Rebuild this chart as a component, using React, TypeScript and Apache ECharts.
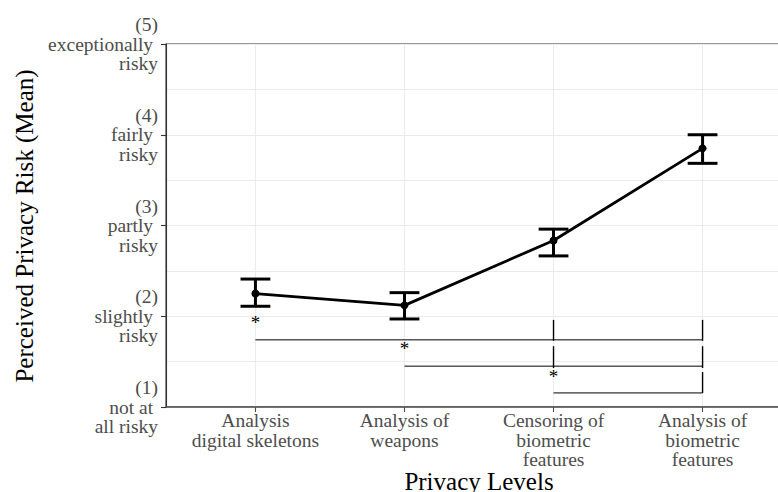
import React, { useEffect, useRef } from "react";
import * as echarts from "echarts";

const categoryLabels = [
  "Analysis\ndigital skeletons",
  "Analysis of\nweapons",
  "Censoring of\nbiometric\nfeatures",
  "Analysis of\nbiometric\nfeatures",
];
const categoryPositions = [1, 2, 3, 4];
const meanRisk = [2.25, 2.12, 2.835, 3.85];
const ciLower = [2.11, 1.97, 2.665, 3.685];
const ciUpper = [2.41, 2.26, 2.96, 4.0];

const yTickValues = [1, 2, 3, 4, 5];
const yTickLabels = [
  "(1)\nnot at\u00a0\nall risky",
  "(2)\nslightly\u00a0\nrisky",
  "(3)\npartly\u00a0\nrisky",
  "(4)\nfairly\u00a0\nrisky",
  "(5)\nexceptionally\u00a0\nrisky",
];

// significance brackets
const bracketStart = [1, 2, 3];
const bracketEnd = [4, 4, 4];
const bracketY = [1.74, 1.45, 1.155];
const asteriskY = [1.93, 1.64, 1.34];
const asteriskText = ["*", "*", "*"];
const bracketTickX = [3, 4, 3, 4, 4];
const bracketTickLow = [1.73, 1.73, 1.43, 1.43, 1.155];
const bracketTickHigh = [1.96, 1.96, 1.67, 1.67, 1.385];

const xTitle = "Privacy Levels";
const yTitle = "Perceived Privacy Risk (Mean)";

const FONT = "'Liberation Serif', 'DejaVu Serif', serif";

export default function App() {
  const ref = useRef<HTMLDivElement>(null);
  useEffect(() => {
    if (!ref.current) return;
    const chart = echarts.init(ref.current, null, { renderer: "svg" });
    const option: any = {
      animation: false,
      backgroundColor: "#ffffff",
      textStyle: { fontFamily: FONT },
      grid: {
        left: 166,
        top: 44,
        width: 626,
        height: 363,
        show: true,
        borderColor: "#333333",
        borderWidth: 1.1,
        containLabel: false,
      },
      xAxis: {
        type: "value",
        min: 0.4,
        max: 4.6,
        axisLine: { show: true, onZero: false, lineStyle: { color: "#4D4D4D", width: 1.6 } },
        axisTick: {
          show: true,
          customValues: categoryPositions,
          length: 5,
          lineStyle: { color: "#4D4D4D", width: 1.1 },
        },
        axisLabel: {
          customValues: categoryPositions,
          formatter: (v: number) => categoryLabels[categoryPositions.indexOf(Math.round(v))] ?? "",
          color: "#4D4D4D",
          fontFamily: FONT,
          fontSize: 19.5,
          lineHeight: 19.5,
          margin: 4,
          align: "center",
        },
        splitLine: { show: true, lineStyle: { color: "#EBEBEB", width: 1.1 } },
      },
      yAxis: {
        type: "value",
        min: 1,
        max: 5,
        interval: 1,
        axisLine: { show: true, lineStyle: { color: "#333333", width: 1.1 } },
        axisTick: { show: true, length: 5, lineStyle: { color: "#333333", width: 1.1 } },
        minorTick: { show: false, splitNumber: 2 },
        minorSplitLine: { show: true, lineStyle: { color: "#EBEBEB", width: 1 } },
        splitLine: { show: true, lineStyle: { color: "#EBEBEB", width: 1.1 } },
        axisLabel: {
          formatter: (v: number) => yTickLabels[yTickValues.indexOf(v)] ?? "",
          color: "#4D4D4D",
          fontFamily: FONT,
          fontSize: 19.5,
          lineHeight: 19.5,
          margin: 8,
          align: "right",
        },
      },
      graphic: [
        {
          type: "text",
          x: 479,
          y: 481,
          style: {
            text: xTitle,
            fontFamily: FONT,
            fontSize: 25,
            fill: "#000000",
            align: "center",
            verticalAlign: "middle",
          },
        },
        {
          type: "text",
          x: 24,
          y: 226,
          rotation: Math.PI / 2,
          style: {
            text: yTitle,
            fontFamily: FONT,
            fontSize: 25,
            fill: "#000000",
            align: "center",
            verticalAlign: "middle",
          },
        },
      ],
      series: [
        {
          type: "custom",
          name: "brackets",
          z: 3,
          data: bracketStart.map((s, i) => [s, bracketEnd[i], bracketY[i]]),
          renderItem: (params: any, api: any) => {
            const a = api.coord([api.value(0), api.value(2)]);
            const b = api.coord([api.value(1), api.value(2)]);
            return {
              type: "line",
              shape: { x1: a[0], y1: a[1], x2: b[0], y2: b[1] },
              style: { stroke: "#000000", lineWidth: 1 },
            };
          },
        },
        {
          type: "custom",
          name: "bracketTicks",
          z: 3,
          data: bracketTickX.map((x, i) => [x, bracketTickLow[i], bracketTickHigh[i]]),
          renderItem: (params: any, api: any) => {
            const a = api.coord([api.value(0), api.value(1)]);
            const b = api.coord([api.value(0), api.value(2)]);
            return {
              type: "line",
              shape: { x1: a[0], y1: a[1], x2: b[0], y2: b[1] },
              style: { stroke: "#000000", lineWidth: 1.4 },
            };
          },
        },
        {
          type: "custom",
          name: "asterisks",
          z: 4,
          data: bracketStart.map((s, i) => [s, asteriskY[i], i]),
          renderItem: (params: any, api: any) => {
            const p = api.coord([api.value(0), api.value(1)]);
            return {
              type: "text",
              x: p[0],
              y: p[1],
              style: {
                text: asteriskText[api.value(2)],
                fontFamily: FONT,
                fontSize: 19,
                fill: "#000000",
                align: "center",
                verticalAlign: "middle",
              },
            };
          },
        },
        {
          type: "custom",
          name: "errorBars",
          z: 5,
          data: categoryPositions.map((x, i) => [x, ciLower[i], ciUpper[i]]),
          renderItem: (params: any, api: any) => {
            const x = api.value(0);
            const lo = api.coord([x, api.value(1)]);
            const hi = api.coord([x, api.value(2)]);
            const l = api.coord([x - 0.1, api.value(1)]);
            const r = api.coord([x + 0.1, api.value(1)]);
            const st = { stroke: "#000000", lineWidth: 3 };
            return {
              type: "group",
              children: [
                { type: "line", shape: { x1: lo[0], y1: lo[1], x2: hi[0], y2: hi[1] }, style: st },
                { type: "line", shape: { x1: l[0], y1: lo[1], x2: r[0], y2: lo[1] }, style: st },
                { type: "line", shape: { x1: l[0], y1: hi[1], x2: r[0], y2: hi[1] }, style: st },
              ],
            };
          },
        },
        {
          type: "line",
          name: "mean",
          z: 6,
          data: categoryPositions.map((x, i) => [x, meanRisk[i]]),
          lineStyle: { color: "#000000", width: 2.8 },
          itemStyle: { color: "#000000" },
          symbol: "circle",
          symbolSize: 8,
          showSymbol: true,
        },
      ],
    };
    chart.setOption(option);
    return () => chart.dispose();
  }, []);
  return (
    <div
      style={{
        position: "fixed",
        left: 0,
        top: 0,
        width: 778,
        height: 492,
        overflow: "hidden",
      }}
    >
      <div ref={ref} style={{ width: 800, height: 492 }} />
    </div>
  );
}
